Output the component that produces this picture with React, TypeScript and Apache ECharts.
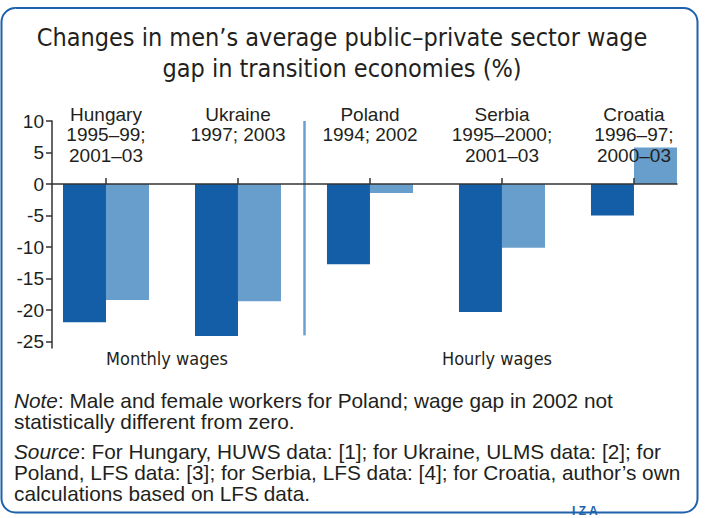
import React, { useEffect, useRef } from "react";
import * as echarts from "echarts";

const categories = ["Hungary", "Ukraine", "Poland", "Serbia", "Croatia"];
const periods = ["1995–99;\n2001–03", "1997; 2003", "1994; 2002", "1995–2000;\n2001–03", "1996–97;\n2000–03"];
const firstPeriod = [-21.9, -24.1, -12.7, -20.3, -5.0];
const secondPeriod = [-18.4, -18.6, -1.4, -10.1, 5.8];
const yTicks = [-25, -20, -15, -10, -5, 0, 5, 10];
const categoryPositions = [0, 1, 2, 3, 4];
const separatorAt = 1.5;
const groupLabels = ["Monthly wages", "Hourly wages"];
const titleText = "Changes in men’s average public–private sector wage\ngap in transition economies (%)";
const noteText = "{i|Note}: Male and female workers for Poland; wage gap in 2002 not\nstatistically different from zero.";
const sourceText =
  "{i|Source}: For Hungary, HUWS data: [1]; for Ukraine, ULMS data: [2]; for\nPoland, LFS data: [3]; for Serbia, LFS data: [4]; for Croatia, author’s own\ncalculations based on LFS data.";

const DARK = "#145EA8";
const LIGHT = "#689ECB";
const TEXT = "#231F20";
const FONT = "'Liberation Sans', Arial, sans-serif";
const NARROW = "'Liberation Sans Narrow', 'DejaVu Sans Condensed', 'Liberation Sans', sans-serif";

export default function App() {
  const ref = useRef<HTMLDivElement>(null);
  useEffect(() => {
    if (!ref.current) return;
    const chart = echarts.init(ref.current, null, { renderer: "svg" });
    const axisLineStyle = { color: "#333", width: 1.5 };
    chart.setOption({
      animation: false,
      backgroundColor: "#fff",
      grid: { left: 52, right: 28, top: 121, bottom: 170, containLabel: false },
      xAxis: {
        type: "value",
        min: -0.409,
        max: 4.326,
        z: 5,
        splitLine: { show: false },
        axisLine: { show: true, onZero: true, lineStyle: axisLineStyle },
        axisTick: { show: true, customValues: categoryPositions, inside: true, length: 6, lineStyle: axisLineStyle },
        axisLabel: {
          show: true,
          customValues: categoryPositions,
          inside: true,
          verticalAlign: "top",
          margin: 244,
          color: TEXT,
          fontSize: 19,
          lineHeight: 20.5,
          fontFamily: FONT,
          formatter: (v: number) => `${categories[Math.round(v)]}\n${periods[Math.round(v)]}`,
        },
      },
      yAxis: {
        type: "value",
        min: -26,
        max: 10,
        splitLine: { show: false },
        axisLine: { show: true, onZero: false, lineStyle: axisLineStyle },
        axisTick: { show: true, customValues: yTicks, length: 6, lineStyle: axisLineStyle },
        axisLabel: { customValues: yTicks, margin: 8, color: TEXT, fontSize: 19, fontFamily: FONT },
      },
      series: [
        {
          type: "bar",
          name: "First period",
          data: firstPeriod.map((v, i) => [categoryPositions[i], v]),
          barWidth: 43,
          barGap: "0%",
          itemStyle: { color: DARK },
        },
        {
          type: "bar",
          name: "Second period",
          data: secondPeriod.map((v, i) => [categoryPositions[i], v]),
          barWidth: 43,
          barGap: "0%",
          itemStyle: { color: LIGHT },
        },
        {
          type: "line",
          name: "separator",
          data: [],
          silent: true,
          markLine: {
            silent: true,
            symbol: "none",
            label: { show: false },
            lineStyle: { color: "#6A9FD0", width: 2.5, type: "solid" },
            data: [[{ coord: [separatorAt, 10] }, { coord: [separatorAt, -24] }]],
          },
        },
      ],
      graphic: [
        {
          type: "rect",
          shape: { x: 1.5, y: 8, width: 696, height: 504.5, r: 14 },
          style: { fill: "none", stroke: "#1E62AC", lineWidth: 2 },
          z: 10,
        },
        {
          type: "text",
          x: 342,
          y: 22,
          style: {
            text: titleText,
            align: "center",
            verticalAlign: "top",
            fontSize: 25,
            lineHeight: 31,
            fontFamily: NARROW,
            fill: TEXT,
          },
        },
        {
          type: "text",
          x: 167,
          y: 358,
          style: { text: groupLabels[0], align: "center", verticalAlign: "middle", fontSize: 18, fontFamily: NARROW, fill: TEXT },
        },
        {
          type: "text",
          x: 497,
          y: 358,
          style: { text: groupLabels[1], align: "center", verticalAlign: "middle", fontSize: 18, fontFamily: NARROW, fill: TEXT },
        },
        {
          type: "text",
          x: 14,
          y: 389.5,
          style: {
            text: noteText,
            fontSize: 20.8,
            lineHeight: 21,
            fontFamily: FONT,
            fill: TEXT,
            verticalAlign: "top",
            rich: { i: { fontStyle: "italic", fontSize: 20.8, lineHeight: 21, fontFamily: FONT, fill: TEXT } },
          },
        },
        {
          type: "text",
          x: 14,
          y: 440.5,
          style: {
            text: sourceText,
            fontSize: 20.8,
            lineHeight: 21,
            fontFamily: FONT,
            fill: TEXT,
            verticalAlign: "top",
            rich: { i: { fontStyle: "italic", fontSize: 20.8, lineHeight: 21, fontFamily: FONT, fill: TEXT } },
          },
        },
        {
          type: "text",
          x: 572,
          y: 505,
          style: {
            text: "I Z A",
            fontSize: 12,
            fontWeight: "bold",
            fontFamily: FONT,
            fill: "#1E62AC",
            verticalAlign: "top",
          },
        },
      ],
    });
    return () => chart.dispose();
  }, []);
  return <div ref={ref} style={{ position: "fixed", left: 0, top: 0, width: 705, height: 518 }} />;
}
